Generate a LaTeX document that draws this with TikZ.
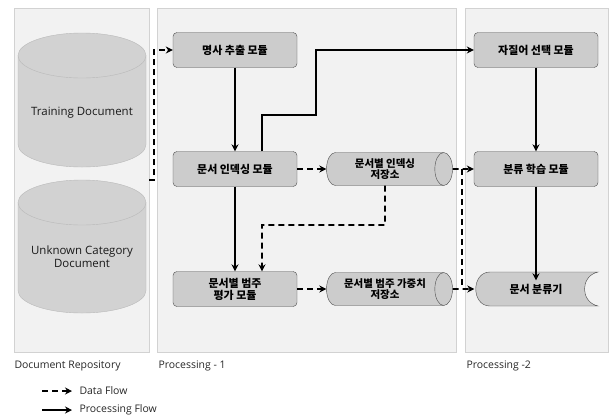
\documentclass[tikz,border=0pt]{standalone}
\usepackage{fontspec}
\setmainfont{Open Sans}
\newfontfamily\kr{Noto Sans CJK KR}
\usepackage{tikz}
\usetikzlibrary{shapes.geometric}
\usetikzlibrary{arrows.meta}

\begin{document}
\begin{tikzpicture}[x=1bp, y=-1bp,
	panel/.style={draw=gray!35, fill=gray!10},
	module/.style={draw=gray!60!black, fill=gray!40, rounded corners=4bp, minimum width=124bp, minimum height=35bp, font=\kr\bfseries\fontsize{11}{12}\selectfont, align=center},
	store/.style={cylinder, draw=gray!60!black, fill=gray!40, aspect=0.85, minimum width=33bp, minimum height=126bp, inner sep=0pt, font=\kr\bfseries\fontsize{10.5}{11}\selectfont, align=center},
	repo/.style={draw=gray!55, fill=gray!35},
	repotext/.style={font=\fontsize{11.5}{13}\selectfont, text=black!90, align=center},
	flow/.style={line width=1.6bp, -{Stealth[length=7bp,width=7bp]}},
	data/.style={flow, dash pattern=on 6bp off 4bp},
	caption/.style={anchor=west, font=\fontsize{10.5}{12}\selectfont, text=black!85}]
	\useasboundingbox (0,0) rectangle (612,417);

	% bakgrunn
	\path[panel] (14,8) rectangle (149,352);
	\path[panel] (157,8) rectangle (456,352);
	\path[panel] (465,8) rectangle (608,352);

	% Document Repository
	\path[repo] (18,55.5) -- (18,144.5) arc[start angle=180, end angle=0, x radius=64, y radius=22.5] -- (146,55.5) -- cycle;
	\path[repo] (82,55.5) ellipse [x radius=64, y radius=22.5];
	\path[repo] (18,202.5) -- (18,290.5) arc[start angle=180, end angle=0, x radius=64, y radius=22.5] -- (146,202.5) -- cycle;
	\path[repo] (82,202.5) ellipse [x radius=64, y radius=22.5];
	\node[repotext] (train) at (82,113) {Training Document};
	\node[repotext] (unknown) at (82,257) {Unknown Category\\Document};
	\coordinate (repo-out) at (149,180);

	% Processing - 1
	\node[module] (noun) at (235,50) {명사 추출 모듈};
	\node[module] (index) at (235,169) {문서 인덱싱 모듈};
	\node[module] (eval) at (235,289) {문서별 범주\\평가 모듈};
	\node[store] (indexdb) at (385,169) {문서별 인덱싱\\저장소};
	\node[store] (weightdb) at (385,289) {문서별 범주 가중치\\저장소};

	% Processing - 2
	\node[module] (feature) at (536,50) {자질어 선택 모듈};
	\node[module] (learn) at (536,169) {분류 학습 모듈};
	\path[draw=gray!60!black, fill=gray!40] (490,272) -- (598,272) .. controls (580,276) and (580,302) .. (598,306) -- (490,306) .. controls (471,306) and (471,272) .. (490,272) -- cycle;
	\node[font=\kr\bfseries\fontsize{11}{12}\selectfont, minimum width=123bp] (classifier) at (536,289) {문서 분류기};

	% knekkpunkter
	\coordinate (up) at (154,180);
	\coordinate (bend) at (316,115);
	\coordinate (loop) at (262,225);
	\coordinate (join-top) at (462,169);
	\coordinate (join-bot) at (462,289);

	% kantene
	\draw[data] (repo-out) -- (up) |- (noun.west);
	\draw[flow] (noun) -- (index);
	\draw[flow] (index) -- (eval);
	\draw[flow] ([xshift=27bp]index.north) |- (bend) |- (feature.west);
	\draw[data] (index) -- (indexdb);
	\draw[data] (indexdb.south) |- (loop) -- ([xshift=27bp]eval.north);
	\draw[data] (eval) -- (weightdb);
	\draw[data] (indexdb.east) -- (learn.west);
	\draw[data] (weightdb.east) -- (classifier.west);
	\draw[data, -] (join-top) -- (join-bot);
	\draw[flow] (feature) -- (learn);
	\draw[flow] (learn) -- (classifier);

	% tekst under
	\node[caption] (cap-repo) at (11,366) {Document Repository};
	\node[caption] (cap-p1) at (155,366) {Processing - 1};
	\node[caption] (cap-p2) at (463,366) {Processing -2};

	% forklaring
	\node[caption] (lg-data) at (76,391) {Data Flow};
	\node[caption] (lg-flow) at (76,410) {Processing Flow};
	\coordinate (lg-data-s) at (42,391);
	\coordinate (lg-flow-s) at (42,410);
	\draw[data, shorten >=4bp] (lg-data-s) -- (lg-data.west);
	\draw[flow, shorten >=4bp] (lg-flow-s) -- (lg-flow.west);
\end{tikzpicture}
\end{document}
